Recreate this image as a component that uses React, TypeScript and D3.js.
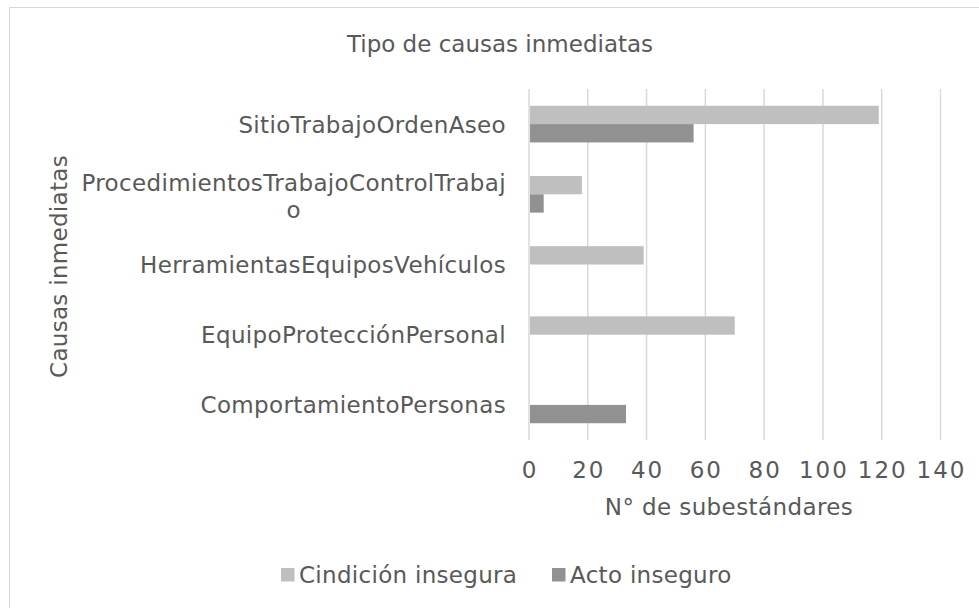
import React from "react";
import * as d3 from "d3";

const categories = [
  "SitioTrabajoOrdenAseo",
  "ProcedimientosTrabajoControlTrabajo",
  "HerramientasEquiposVehículos",
  "EquipoProtecciónPersonal",
  "ComportamientoPersonas",
];
const condicion = [119, 18, 39, 70, 0];
const acto = [56, 5, 0, 0, 33];
const seriesNames = ["Cindición insegura", "Acto inseguro"];
const xTicks = [0, 20, 40, 60, 80, 100, 120, 140];

const FONT = "DejaVu Sans";
const FS = 23;
const LS = 0.35;
const TXT = "#595959";
const GRID = "#d9d9d9";
const C1 = "#bfbfbf";
const C2 = "#919191";

let ctx: CanvasRenderingContext2D | null = null;
function measure(s: string): number {
  if (!ctx) {
    const c = document.createElement("canvas");
    ctx = c.getContext("2d");
  }
  const n = Array.from(s).length;
  if (!ctx) return s.length * FS * 0.6;
  ctx.font = `${FS}px "${FONT}"`;
  return ctx.measureText(s).width + n * LS;
}

function wrap(s: string, maxW: number): string[] {
  const lines: string[] = [];
  let cur = "";
  for (const ch of s) {
    if (measure(cur + ch) > maxW && cur.length > 0) {
      lines.push(cur);
      cur = ch;
    } else cur += ch;
  }
  if (cur) lines.push(cur);
  return lines;
}

export default function App() {
  const W = 979;
  const H = 608;
  const left = 529;
  const right = 940.5;
  const top = 89;
  const bottom = 440;

  const x = d3.scaleLinear().domain([0, 140]).range([left, right]);
  const y = d3.scaleBand<string>().domain(categories).range([top, bottom]).paddingInner(0.478).paddingOuter(0.239);
  const bw = y.bandwidth();
  const sub = d3.scaleBand<string>().domain(seriesNames).range([0, bw]);

  const labelRight = 506;
  const titleX = 500;

  return (
    <svg
      width={W}
      height={H}
      style={{ position: "absolute", left: 0, top: 0, display: "block" }}
      fontFamily={FONT}
    >
      <rect x={0} y={0} width={W} height={H} fill="#fff" />
      <rect x={9.5} y={7.5} width={W + 20} height={H + 20} fill="none" stroke={GRID} strokeWidth={1} />
      <text x={titleX} y={52} textAnchor="middle" fontSize={FS} fill={TXT}>
        Tipo de causas inmediatas
      </text>
      {xTicks.map((t) => (
        <line key={"g" + t} x1={x(t)} x2={x(t)} y1={top} y2={bottom} stroke={GRID} strokeWidth={1.5} />
      ))}
      {categories.map((c, i) => {
        const y0 = y(c)!;
        return (
          <g key={c}>
            {condicion[i] > 0 && (
              <rect x={x(0) + 1} y={y0 + sub(seriesNames[0])!} width={x(condicion[i]) - x(0) - 1} height={sub.bandwidth()} fill={C1} />
            )}
            {acto[i] > 0 && (
              <rect x={x(0) + 1} y={y0 + sub(seriesNames[1])!} width={x(acto[i]) - x(0) - 1} height={sub.bandwidth()} fill={C2} />
            )}
          </g>
        );
      })}
      {categories.map((c) => {
        const lines = wrap(c, 432);
        const cy = y(c)! + bw / 2;
        const widths = lines.map(measure);
        const maxW = Math.max(...widths);
        const cx = labelRight - maxW / 2;
        const y1 = lines.length === 1 ? cy + 8.4 : cy - 3;
        return (
          <g key={"l" + c}>
            {lines.map((ln, k) => (
              <text key={k} x={cx} y={y1 + k * 27} textAnchor="middle" fontSize={FS} fill={TXT} letterSpacing={LS}>
                {ln}
              </text>
            ))}
          </g>
        );
      })}
      {xTicks.map((t) => (
        <text key={"t" + t} x={x(t) + 1} y={478} textAnchor="middle" fontSize={FS} fill={TXT} letterSpacing={2}>
          {t}
        </text>
      ))}
      <text x={729} y={515} textAnchor="middle" fontSize={FS} fill={TXT} letterSpacing={0.4}>
        N° de subestándares
      </text>
      <text
        transform={`translate(67,${(top + bottom) / 2 + 2}) rotate(-90)`}
        textAnchor="middle"
        fontSize={FS}
        fill={TXT}
        letterSpacing={0.3}
      >
        Causas inmediatas
      </text>
      <g>
        <rect x={281} y={568} width={13.5} height={13.5} fill={C1} />
        <text x={299} y={583} fontSize={FS} fill={TXT} letterSpacing={0.3}>
          {seriesNames[0]}
        </text>
        <rect x={552} y={568} width={13.5} height={13.5} fill={C2} />
        <text x={570} y={583} fontSize={FS} fill={TXT} letterSpacing={0.3}>
          {seriesNames[1]}
        </text>
      </g>
    </svg>
  );
}
